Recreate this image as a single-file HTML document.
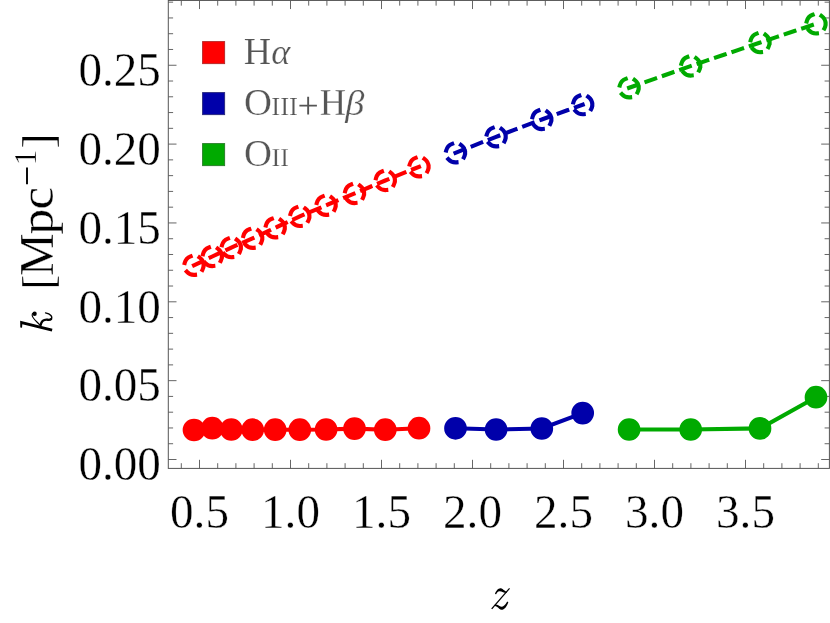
<!DOCTYPE html>
<html><head><meta charset="utf-8"><title>k vs z</title>
<style>html,body{margin:0;padding:0;background:#fff;}body{width:830px;height:623px;overflow:hidden;}svg{display:block;will-change:transform;}text{font-family:"Liberation Serif",serif;}</style></head><body>
<svg width="830" height="623" viewBox="0 0 830 623">
<rect width="830" height="623" fill="#fff"/>
<path d="M181.30 468.4v-5.2M181.30 0.45v5.2M199.50 468.4v-8.6M199.50 0.45v8.6M217.70 468.4v-5.2M217.70 0.45v5.2M235.90 468.4v-5.2M235.90 0.45v5.2M254.10 468.4v-5.2M254.10 0.45v5.2M272.30 468.4v-5.2M272.30 0.45v5.2M290.50 468.4v-8.6M290.50 0.45v8.6M308.70 468.4v-5.2M308.70 0.45v5.2M326.90 468.4v-5.2M326.90 0.45v5.2M345.10 468.4v-5.2M345.10 0.45v5.2M363.30 468.4v-5.2M363.30 0.45v5.2M381.50 468.4v-8.6M381.50 0.45v8.6M399.70 468.4v-5.2M399.70 0.45v5.2M417.90 468.4v-5.2M417.90 0.45v5.2M436.10 468.4v-5.2M436.10 0.45v5.2M454.30 468.4v-5.2M454.30 0.45v5.2M472.50 468.4v-8.6M472.50 0.45v8.6M490.70 468.4v-5.2M490.70 0.45v5.2M508.90 468.4v-5.2M508.90 0.45v5.2M527.10 468.4v-5.2M527.10 0.45v5.2M545.30 468.4v-5.2M545.30 0.45v5.2M563.50 468.4v-8.6M563.50 0.45v8.6M581.70 468.4v-5.2M581.70 0.45v5.2M599.90 468.4v-5.2M599.90 0.45v5.2M618.10 468.4v-5.2M618.10 0.45v5.2M636.30 468.4v-5.2M636.30 0.45v5.2M654.50 468.4v-8.6M654.50 0.45v8.6M672.70 468.4v-5.2M672.70 0.45v5.2M690.90 468.4v-5.2M690.90 0.45v5.2M709.10 468.4v-5.2M709.10 0.45v5.2M727.30 468.4v-5.2M727.30 0.45v5.2M745.50 468.4v-8.6M745.50 0.45v8.6M763.70 468.4v-5.2M763.70 0.45v5.2M781.90 468.4v-5.2M781.90 0.45v5.2M800.10 468.4v-5.2M800.10 0.45v5.2M818.30 468.4v-5.2M818.30 0.45v5.2M168.3 459.50h8.2M829.4 459.50h-8.2M168.3 443.73h4.8M829.4 443.73h-4.8M168.3 427.96h4.8M829.4 427.96h-4.8M168.3 412.19h4.8M829.4 412.19h-4.8M168.3 396.42h4.8M829.4 396.42h-4.8M168.3 380.65h8.2M829.4 380.65h-8.2M168.3 364.88h4.8M829.4 364.88h-4.8M168.3 349.11h4.8M829.4 349.11h-4.8M168.3 333.34h4.8M829.4 333.34h-4.8M168.3 317.57h4.8M829.4 317.57h-4.8M168.3 301.80h8.2M829.4 301.80h-8.2M168.3 286.03h4.8M829.4 286.03h-4.8M168.3 270.26h4.8M829.4 270.26h-4.8M168.3 254.49h4.8M829.4 254.49h-4.8M168.3 238.72h4.8M829.4 238.72h-4.8M168.3 222.95h8.2M829.4 222.95h-8.2M168.3 207.18h4.8M829.4 207.18h-4.8M168.3 191.41h4.8M829.4 191.41h-4.8M168.3 175.64h4.8M829.4 175.64h-4.8M168.3 159.87h4.8M829.4 159.87h-4.8M168.3 144.10h8.2M829.4 144.10h-8.2M168.3 128.33h4.8M829.4 128.33h-4.8M168.3 112.56h4.8M829.4 112.56h-4.8M168.3 96.79h4.8M829.4 96.79h-4.8M168.3 81.02h4.8M829.4 81.02h-4.8M168.3 65.25h8.2M829.4 65.25h-8.2M168.3 49.48h4.8M829.4 49.48h-4.8M168.3 33.71h4.8M829.4 33.71h-4.8M168.3 17.94h4.8M829.4 17.94h-4.8M168.3 2.17h4.8M829.4 2.17h-4.8" stroke="#555" stroke-width="0.9" fill="none"/>
<rect x="168.3" y="0.45" width="661.0999999999999" height="467.95" fill="none" stroke="#555" stroke-width="1"/>
<g stroke="#ff0000" stroke-width="4.1" fill="#ff0000">
<polyline points="194.0,430.0 212.3,428.2 231.3,429.5 252.7,429.7 275.2,429.7 299.8,429.7 326.1,429.5 354.5,428.6 385.3,429.7 419.0,428.2" fill="none"/>
<circle cx="194.0" cy="430.0" r="9.3"/>
<circle cx="212.3" cy="428.2" r="9.3"/>
<circle cx="231.3" cy="429.5" r="9.3"/>
<circle cx="252.7" cy="429.7" r="9.3"/>
<circle cx="275.2" cy="429.7" r="9.3"/>
<circle cx="299.8" cy="429.7" r="9.3"/>
<circle cx="326.1" cy="429.5" r="9.3"/>
<circle cx="354.5" cy="428.6" r="9.3"/>
<circle cx="385.3" cy="429.7" r="9.3"/>
<circle cx="419.0" cy="428.2" r="9.3"/>
</g>
<g stroke="#ff0000" stroke-width="4.1" fill="none" stroke-dasharray="9.2 9.2" stroke-linecap="square">
<polyline points="194.0,265.3 212.3,256.5 231.3,247.6 252.7,238.3 275.2,227.8 299.8,216.4 326.1,205.3 354.5,193.5 385.3,180.5 419.0,166.8"/>
<path d="M203.60 265.30A9.6 9.6 0 1 0 184.40 265.30A9.6 9.6 0 1 0 203.60 265.30"/>
<path d="M221.90 256.50A9.6 9.6 0 1 0 202.70 256.50A9.6 9.6 0 1 0 221.90 256.50"/>
<path d="M240.90 247.60A9.6 9.6 0 1 0 221.70 247.60A9.6 9.6 0 1 0 240.90 247.60"/>
<path d="M262.30 238.30A9.6 9.6 0 1 0 243.10 238.30A9.6 9.6 0 1 0 262.30 238.30"/>
<path d="M284.80 227.80A9.6 9.6 0 1 0 265.60 227.80A9.6 9.6 0 1 0 284.80 227.80"/>
<path d="M309.40 216.40A9.6 9.6 0 1 0 290.20 216.40A9.6 9.6 0 1 0 309.40 216.40"/>
<path d="M335.70 205.30A9.6 9.6 0 1 0 316.50 205.30A9.6 9.6 0 1 0 335.70 205.30"/>
<path d="M364.10 193.50A9.6 9.6 0 1 0 344.90 193.50A9.6 9.6 0 1 0 364.10 193.50"/>
<path d="M394.90 180.50A9.6 9.6 0 1 0 375.70 180.50A9.6 9.6 0 1 0 394.90 180.50"/>
<path d="M428.60 166.80A9.6 9.6 0 1 0 409.40 166.80A9.6 9.6 0 1 0 428.60 166.80"/>
</g>
<g stroke="#0000aa" stroke-width="4.1" fill="#0000aa">
<polyline points="455.5,428.3 496.1,429.5 541.8,428.5 582.7,413.1" fill="none"/>
<circle cx="455.5" cy="428.3" r="9.3"/>
<circle cx="496.1" cy="429.5" r="9.3"/>
<circle cx="541.8" cy="428.5" r="9.3"/>
<circle cx="582.7" cy="413.1" r="9.3"/>
</g>
<g stroke="#0000aa" stroke-width="4.1" fill="none" stroke-dasharray="9.2 9.2" stroke-linecap="square">
<polyline points="455.5,152.8 496.1,136.8 541.8,119.5 582.7,104.7"/>
<path d="M465.10 152.80A9.6 9.6 0 1 0 445.90 152.80A9.6 9.6 0 1 0 465.10 152.80"/>
<path d="M505.70 136.80A9.6 9.6 0 1 0 486.50 136.80A9.6 9.6 0 1 0 505.70 136.80"/>
<path d="M551.40 119.50A9.6 9.6 0 1 0 532.20 119.50A9.6 9.6 0 1 0 551.40 119.50"/>
<path d="M592.30 104.70A9.6 9.6 0 1 0 573.10 104.70A9.6 9.6 0 1 0 592.30 104.70"/>
</g>
<g stroke="#00aa00" stroke-width="4.1" fill="#00aa00">
<polyline points="629.1,429.5 690.7,429.5 760.0,428.4 816.0,397.2" fill="none"/>
<circle cx="629.1" cy="429.5" r="9.3"/>
<circle cx="690.7" cy="429.5" r="9.3"/>
<circle cx="760.0" cy="428.4" r="9.3"/>
<circle cx="816.0" cy="397.2" r="9.3"/>
</g>
<g stroke="#00aa00" stroke-width="4.1" fill="none" stroke-dasharray="9.2 9.2" stroke-linecap="square">
<polyline points="629.1,87.8 690.7,66.0 760.0,42.6 816.0,23.8"/>
<path d="M638.70 87.80A9.6 9.6 0 1 0 619.50 87.80A9.6 9.6 0 1 0 638.70 87.80"/>
<path d="M700.30 66.00A9.6 9.6 0 1 0 681.10 66.00A9.6 9.6 0 1 0 700.30 66.00"/>
<path d="M769.60 42.60A9.6 9.6 0 1 0 750.40 42.60A9.6 9.6 0 1 0 769.60 42.60"/>
<path d="M825.60 23.80A9.6 9.6 0 1 0 806.40 23.80A9.6 9.6 0 1 0 825.60 23.80"/>
</g>
<rect x="202.6" y="41.6" width="22" height="22" fill="#ff0000" stroke="#b82a2a" stroke-width="1"/>
<rect x="202.6" y="92.6" width="22" height="22" fill="#0000aa" stroke="#2a2a80" stroke-width="1"/>
<rect x="202.6" y="143.6" width="22" height="22" fill="#00aa00" stroke="#2a802a" stroke-width="1"/>
<g fill="#555555" stroke="#fff" stroke-width="0.25">
<text transform="translate(243.73 63.70) scale(1.0077 1)" font-size="37.6">H</text>
<text transform="translate(271.14 63.70) scale(1.0188 1)" font-size="35.6" font-style="italic">α</text>
<text transform="translate(244.03 114.60) scale(1.0287 1)" font-size="37.6">O</text>
<text transform="translate(271.25 114.60) scale(1.0893 1)" font-size="24.6">III</text>
<path d="M299.4 105.6h17.5M308.15 96.8v17.6" stroke="#555555" stroke-width="1.9" fill="none"/>
<text transform="translate(319.77 114.60) scale(0.9716 1)" font-size="37.6">H</text>
<text transform="translate(345.34 114.60) scale(1.0956 1)" font-size="35" font-style="italic">β</text>
<text transform="translate(244.03 165.50) scale(1.0287 1)" font-size="37.6">O</text>
<text transform="translate(271.57 165.50) scale(1.0635 1)" font-size="24.6">II</text>
</g>
<g fill="#000" stroke="#fff" stroke-width="0.36">
<text transform="translate(78.42 480.30) scale(0.9760 1)" font-size="48.3">0.00</text>
<text transform="translate(78.42 401.45) scale(0.9760 1)" font-size="48.3">0.05</text>
<text transform="translate(78.42 322.60) scale(0.9760 1)" font-size="48.3">0.10</text>
<text transform="translate(78.42 243.75) scale(0.9760 1)" font-size="48.3">0.15</text>
<text transform="translate(78.42 164.90) scale(0.9760 1)" font-size="48.3">0.20</text>
<text transform="translate(78.42 86.05) scale(0.9760 1)" font-size="48.3">0.25</text>
<text transform="translate(170.05 528.0) scale(0.9755 1)" font-size="48.3">0.5</text>
<text transform="translate(261.05 528.0) scale(0.9755 1)" font-size="48.3">1.0</text>
<text transform="translate(352.05 528.0) scale(0.9755 1)" font-size="48.3">1.5</text>
<text transform="translate(443.05 528.0) scale(0.9755 1)" font-size="48.3">2.0</text>
<text transform="translate(534.05 528.0) scale(0.9755 1)" font-size="48.3">2.5</text>
<text transform="translate(625.05 528.0) scale(0.9755 1)" font-size="48.3">3.0</text>
<text transform="translate(716.05 528.0) scale(0.9755 1)" font-size="48.3">3.5</text>
<g transform="translate(484 582) scale(0.05136)" fill="#000" stroke="none"><path d="M488 118L506 132L160 532L140 516Z"/><path d="M214 232C232 178 272 122 320 122C362 122 388 172 448 192L436 214C398 216 350 178 302 178C266 178 252 216 236 238Z"/><path d="M204 446C240 424 272 444 302 468C342 498 392 488 452 382L474 394C444 480 392 548 336 542C290 536 270 472 212 468Z"/></g>
<g transform="translate(8 296) scale(0.07229)" stroke-linecap="round" stroke-linejoin="round"><path d="M168 342L615 452L606 490L198 392L194 440L170 436Z" fill="#000" stroke="none"/><path d="M448 410C410 360 340 318 334 266C332 250 340 240 352 236" fill="none" stroke="#000" stroke-width="16"/><circle cx="368" cy="245" r="30" fill="#000" stroke="none"/><path d="M452 402C462 352 495 326 540 328C565 330 584 334 597 318" fill="none" stroke="#000" stroke-width="32"/><path d="M597 318C622 288 590 246 519 233" fill="none" stroke="#000" stroke-width="18"/></g>
<g transform="translate(52.4 331) rotate(-90)">
<text transform="translate(41.50 0.20) scale(0.9860 1)" font-size="44">[</text>
<text transform="translate(55.04 0.20) scale(1.0055 1)" font-size="47.7">M</text>
<text transform="translate(96.59 0.20) scale(1.0774 1)" font-size="47.7">p</text>
<text transform="translate(121.48 0.20) scale(1.0655 1)" font-size="47.7">c</text>
<path d="M146.8 -25.4H163.6" stroke="#000" stroke-width="1.9" fill="none"/>
<text transform="translate(165.63 -16.60) scale(0.9642 1)" font-size="31.7">1</text>
<text transform="translate(182.40 0.20) scale(1.0167 1)" font-size="44">]</text>
</g>
</g>
</svg></body></html>
